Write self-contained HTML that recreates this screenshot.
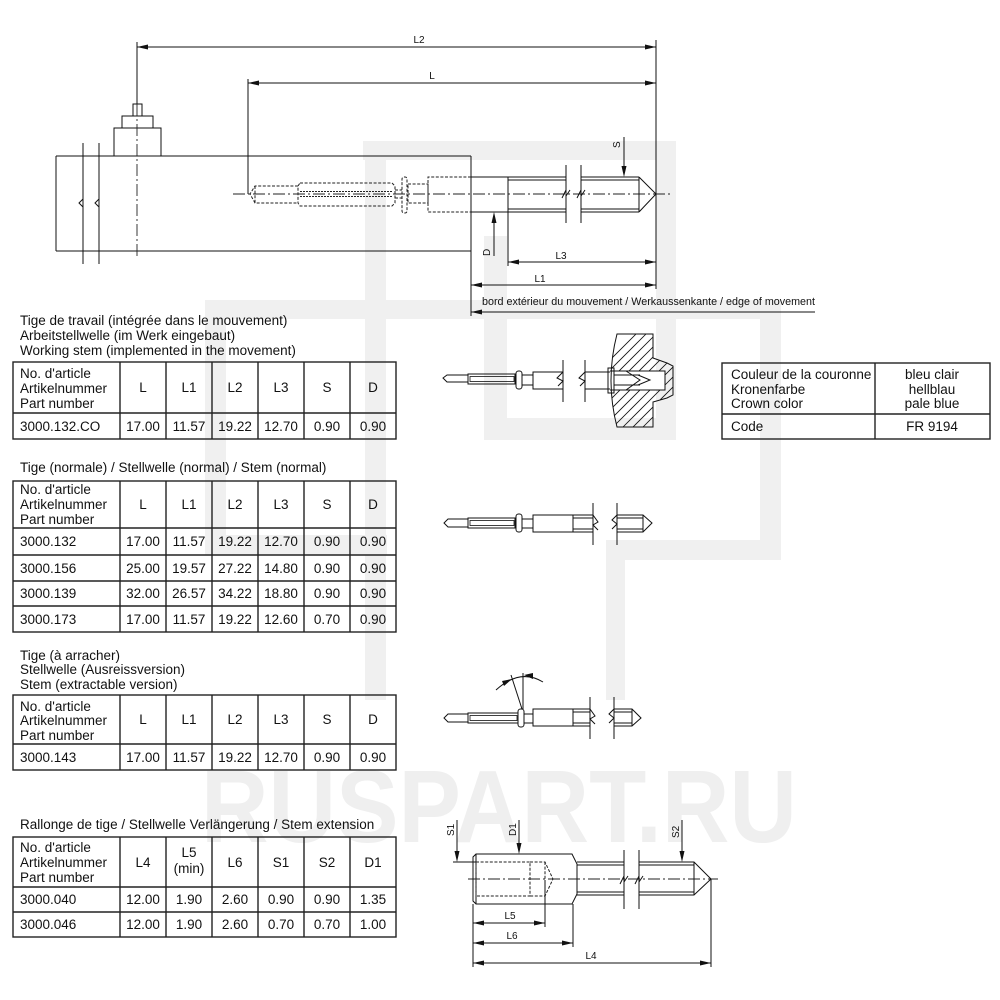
<!DOCTYPE html>
<html><head><meta charset="utf-8"><style>
html,body{margin:0;padding:0;background:#fff;}
svg{display:block;font-family:"Liberation Sans",Arial,sans-serif;}
.t{font-size:13.5px;fill:#111;}
.c{text-anchor:middle;}
.s{font-size:10px;fill:#111;}
.ln{stroke:#111;stroke-width:1;fill:none;}
.tb{stroke:#222;stroke-width:1.4;fill:none;}
.hd{stroke:#222;stroke-width:1;fill:none;stroke-dasharray:3 1.6;}
.ax{stroke:#222;stroke-width:0.9;fill:none;stroke-dasharray:12 3 2 3;}
.wm{fill:#f0f0f0;}
.ar{fill:#111;}
</style></head><body>
<svg width="1000" height="1000" viewBox="0 0 1000 1000" xmlns="http://www.w3.org/2000/svg">
<!-- watermark -->
<g>
<rect class="wm" x="363" y="141" width="313" height="19"/>
<rect class="wm" x="656" y="141" width="20" height="299"/>
<rect class="wm" x="365" y="141" width="21" height="559"/>
<rect class="wm" x="484" y="236" width="23" height="204"/>
<rect class="wm" x="484" y="418" width="192" height="22"/>
<rect class="wm" x="205" y="300" width="576" height="19"/>
<rect class="wm" x="205" y="300" width="21" height="255"/>
<rect class="wm" x="205" y="535" width="182" height="20"/>
<rect class="wm" x="760" y="300" width="21" height="260"/>
<rect class="wm" x="606" y="540" width="175" height="20"/>
<rect class="wm" x="606" y="540" width="19" height="160"/>
<text x="201" y="842" font-size="103" font-weight="bold" fill="#efefef" textLength="596" lengthAdjust="spacingAndGlyphs">RUSPART.RU</text>
</g>

<!-- ===== Main drawing ===== -->
<line class="ln" x1="137" y1="47" x2="656" y2="47"/>
<polygon class="ar" points="137,47 148,44.5 148,49.5"/>
<polygon class="ar" points="656,47 645,44.5 645,49.5"/>
<text class="s c" x="419" y="43">L2</text>
<line class="ln" x1="137" y1="42" x2="137" y2="104"/>
<line class="ln" x1="656" y1="40" x2="656" y2="289"/>
<line class="ln" x1="248" y1="83" x2="656" y2="83"/>
<polygon class="ar" points="248,83 259,80.5 259,85.5"/>
<polygon class="ar" points="656,83 645,80.5 645,85.5"/>
<text class="s c" x="432" y="79">L</text>
<line class="ln" x1="248" y1="79" x2="248" y2="194"/>
<rect class="ln" x="133" y="104" width="9" height="12"/>
<rect class="ln" x="122" y="116" width="31" height="12"/>
<rect class="ln" x="114" y="128" width="47" height="28"/>
<line class="ln" x1="56" y1="156" x2="471" y2="156"/>
<line class="ln" x1="56" y1="251" x2="471" y2="251"/>
<line class="ln" x1="56" y1="156" x2="56" y2="251"/>
<line class="ln" x1="471" y1="156" x2="471" y2="316"/>
<line class="ln" x1="83" y1="143" x2="83" y2="264"/>
<line class="ln" x1="99" y1="143" x2="99" y2="264"/>
<polyline class="ln" points="83,199 79,203 83,207"/>
<polyline class="ln" points="99,199 95,203 99,207"/>
<line class="ax" x1="137" y1="104" x2="137" y2="258"/>
<line class="ax" x1="233" y1="194" x2="672" y2="194"/>
<path class="hd" d="M298 186 L255 186 L250 194 L255 203 L298 203"/>
<line class="hd" x1="255" y1="186" x2="255" y2="203"/>
<path class="hd" d="M300 183 L392 183 L395 186 L395 203 L392 206 L300 206 L298 203 L298 186 Z"/>
<line class="hd" x1="300" y1="191.5" x2="393" y2="191.5" style="stroke-dasharray:2 1"/>
<line class="hd" x1="300" y1="196.5" x2="393" y2="196.5" style="stroke-dasharray:2 1"/>
<line class="hd" x1="395" y1="190" x2="402" y2="190"/>
<line class="hd" x1="395" y1="198" x2="402" y2="198"/>
<rect class="hd" x="402" y="177" width="5" height="36" rx="2"/>
<rect class="hd" x="408" y="184" width="20" height="19"/>
<path class="hd" d="M471 177 L428 177 L428 212 L471 212"/>
<line class="ln" x1="471" y1="177" x2="566" y2="177"/>
<line class="ln" x1="471" y1="212" x2="566" y2="212"/>
<line class="ln" x1="581" y1="177" x2="639" y2="177"/>
<line class="ln" x1="581" y1="212" x2="639" y2="212"/>
<line class="ln" x1="508" y1="180" x2="566" y2="180"/>
<line class="ln" x1="508" y1="209" x2="566" y2="209"/>
<line class="ln" x1="581" y1="180" x2="639" y2="180"/>
<line class="ln" x1="581" y1="209" x2="639" y2="209"/>
<line class="ln" x1="508" y1="177" x2="508" y2="266"/>
<line class="ln" x1="566" y1="165" x2="566" y2="223"/>
<line class="ln" x1="581" y1="165" x2="581" y2="223"/>
<polyline class="ln" points="562,198 566,190 566,196 570,190"/>
<polyline class="ln" points="577,198 581,190 581,196 585,190"/>
<line class="ln" x1="639" y1="177" x2="639" y2="212"/>
<polyline class="ln" points="639,177 656,194 639,212"/>
<line class="ln" x1="624" y1="137" x2="624" y2="170"/>
<polygon class="ar" points="624,177 621.5,166 626.5,166"/>
<text class="s" transform="translate(620,148) rotate(-90)">S</text>
<line class="ln" x1="494" y1="256" x2="494" y2="220"/>
<polygon class="ar" points="494,212 491.5,223 496.5,223"/>
<text class="s" transform="translate(490,256) rotate(-90)">D</text>
<line class="ln" x1="508" y1="262" x2="656" y2="262"/>
<polygon class="ar" points="508,262 519,259.5 519,264.5"/>
<polygon class="ar" points="656,262 645,259.5 645,264.5"/>
<text class="s c" x="561" y="259">L3</text>
<line class="ln" x1="471" y1="285" x2="656" y2="285"/>
<polygon class="ar" points="471,285 482,282.5 482,287.5"/>
<polygon class="ar" points="656,285 645,282.5 645,287.5"/>
<text class="s c" x="540" y="282">L1</text>
<text x="482" y="305" font-size="11" fill="#111" textLength="333" lengthAdjust="spacingAndGlyphs">bord extérieur du mouvement / Werkaussenkante / edge of movement</text>
<line class="ln" x1="471" y1="312" x2="815" y2="312"/>
<polygon class="ar" points="471,312 482,309.5 482,314.5"/>

<!-- ===== Table 1 ===== -->
<text class="t" x="20" y="325">Tige de travail (intégrée dans le mouvement)</text>
<text class="t" x="20" y="340">Arbeitstellwelle (im Werk eingebaut)</text>
<text class="t" x="20" y="355">Working stem (implemented in the movement)</text>
<rect class="tb" x="13" y="362" width="383" height="77"/>
<path class="tb" d="M13 413H396 M120 362V439 M166 362V439 M212 362V439 M258 362V439 M304 362V439 M350 362V439"/>
<text class="t" x="20" y="378">No. d'article</text>
<text class="t" x="20" y="393">Artikelnummer</text>
<text class="t" x="20" y="408">Part number</text>
<g class="t c"><text x="143" y="392">L</text><text x="189" y="392">L1</text><text x="235" y="392">L2</text><text x="281" y="392">L3</text><text x="327" y="392">S</text><text x="373" y="392">D</text></g>
<text class="t" x="20" y="431">3000.132.CO</text>
<g class="t c"><text x="143" y="431">17.00</text><text x="189" y="431">11.57</text><text x="235" y="431">19.22</text><text x="281" y="431">12.70</text><text x="327" y="431">0.90</text><text x="373" y="431">0.90</text></g>

<!-- ===== Table 2 ===== -->
<text class="t" x="20" y="472">Tige (normale) / Stellwelle (normal) / Stem (normal)</text>
<rect class="tb" x="13" y="481" width="383" height="151"/>
<path class="tb" d="M13 528H396 M13 555H396 M13 581H396 M13 606H396 M120 481V632 M166 481V632 M212 481V632 M258 481V632 M304 481V632 M350 481V632"/>
<text class="t" x="20" y="494">No. d'article</text>
<text class="t" x="20" y="509">Artikelnummer</text>
<text class="t" x="20" y="524">Part number</text>
<g class="t c"><text x="143" y="509">L</text><text x="189" y="509">L1</text><text x="235" y="509">L2</text><text x="281" y="509">L3</text><text x="327" y="509">S</text><text x="373" y="509">D</text></g>
<text class="t" x="20" y="546">3000.132</text>
<g class="t c"><text x="143" y="546">17.00</text><text x="189" y="546">11.57</text><text x="235" y="546">19.22</text><text x="281" y="546">12.70</text><text x="327" y="546">0.90</text><text x="373" y="546">0.90</text></g>
<text class="t" x="20" y="573">3000.156</text>
<g class="t c"><text x="143" y="573">25.00</text><text x="189" y="573">19.57</text><text x="235" y="573">27.22</text><text x="281" y="573">14.80</text><text x="327" y="573">0.90</text><text x="373" y="573">0.90</text></g>
<text class="t" x="20" y="598">3000.139</text>
<g class="t c"><text x="143" y="598">32.00</text><text x="189" y="598">26.57</text><text x="235" y="598">34.22</text><text x="281" y="598">18.80</text><text x="327" y="598">0.90</text><text x="373" y="598">0.90</text></g>
<text class="t" x="20" y="624">3000.173</text>
<g class="t c"><text x="143" y="624">17.00</text><text x="189" y="624">11.57</text><text x="235" y="624">19.22</text><text x="281" y="624">12.60</text><text x="327" y="624">0.70</text><text x="373" y="624">0.90</text></g>

<!-- ===== Table 3 ===== -->
<text class="t" x="20" y="660">Tige (à arracher)</text>
<text class="t" x="20" y="674">Stellwelle (Ausreissversion)</text>
<text class="t" x="20" y="689">Stem (extractable version)</text>
<rect class="tb" x="13" y="695" width="383" height="75"/>
<path class="tb" d="M13 744H396 M120 695V770 M166 695V770 M212 695V770 M258 695V770 M304 695V770 M350 695V770"/>
<text class="t" x="20" y="711">No. d'article</text>
<text class="t" x="20" y="725">Artikelnummer</text>
<text class="t" x="20" y="740">Part number</text>
<g class="t c"><text x="143" y="724">L</text><text x="189" y="724">L1</text><text x="235" y="724">L2</text><text x="281" y="724">L3</text><text x="327" y="724">S</text><text x="373" y="724">D</text></g>
<text class="t" x="20" y="762">3000.143</text>
<g class="t c"><text x="143" y="762">17.00</text><text x="189" y="762">11.57</text><text x="235" y="762">19.22</text><text x="281" y="762">12.70</text><text x="327" y="762">0.90</text><text x="373" y="762">0.90</text></g>

<!-- ===== Table 4 ===== -->
<text class="t" x="20" y="829">Rallonge de tige / Stellwelle Verlängerung / Stem extension</text>
<rect class="tb" x="13" y="837" width="383" height="100"/>
<path class="tb" d="M13 887H396 M13 912H396 M120 837V937 M166 837V937 M212 837V937 M258 837V937 M304 837V937 M350 837V937"/>
<text class="t" x="20" y="852">No. d'article</text>
<text class="t" x="20" y="867">Artikelnummer</text>
<text class="t" x="20" y="882">Part number</text>
<g class="t c"><text x="143" y="867">L4</text><text x="189" y="857">L5</text><text x="189" y="873">(min)</text><text x="235" y="867">L6</text><text x="281" y="867">S1</text><text x="327" y="867">S2</text><text x="373" y="867">D1</text></g>
<text class="t" x="20" y="904">3000.040</text>
<g class="t c"><text x="143" y="904">12.00</text><text x="189" y="904">1.90</text><text x="235" y="904">2.60</text><text x="281" y="904">0.90</text><text x="327" y="904">0.90</text><text x="373" y="904">1.35</text></g>
<text class="t" x="20" y="929">3000.046</text>
<g class="t c"><text x="143" y="929">12.00</text><text x="189" y="929">1.90</text><text x="235" y="929">2.60</text><text x="281" y="929">0.70</text><text x="327" y="929">0.70</text><text x="373" y="929">1.00</text></g>

<!-- ===== Crown color table ===== -->
<rect class="tb" x="722" y="363" width="268" height="76"/>
<path class="tb" d="M722 414H990 M875 363V439"/>
<text class="t" x="731" y="379">Couleur de la couronne</text>
<text class="t" x="731" y="394">Kronenfarbe</text>
<text class="t" x="731" y="408">Crown color</text>
<text class="t" x="731" y="431">Code</text>
<g class="t c"><text x="932" y="379">bleu clair</text><text x="932" y="394">hellblau</text><text x="932" y="408">pale blue</text><text x="932" y="431">FR 9194</text></g>

<!-- ===== Drawing 1 (axis 378) ===== -->
<defs>
<clipPath id="crc"><path d="M617 334 L653 334 L653 358 L667 363 L673 366 L673 395 L667 398 L653 402 L653 427 L617 427 Q605 380.5 617 334 Z"/></clipPath>
</defs>
<path class="ln" d="M468 375 L447 375 L443 378 L447 382 L468 382"/>
<rect class="ln" x="468" y="374" width="47" height="10"/>
<rect class="ln" x="470" y="376.5" width="44" height="5" style="stroke-width:0.8"/>
<rect class="ln" x="516" y="371" width="6" height="18" rx="2.5"/>
<rect class="ln" x="522" y="375" width="11" height="10"/>
<path class="ln" d="M563 372 L533 372 L533 389 L563 389"/>
<line class="ln" x1="563" y1="360" x2="563" y2="402"/>
<line class="ln" x1="585" y1="360" x2="585" y2="402"/>
<polyline class="ln" points="563,372 557,378 563,381 558,386"/>
<polyline class="ln" points="585,372 579,378 585,381 580,386"/>
<line class="ln" x1="585" y1="372" x2="610" y2="372"/>
<line class="ln" x1="585" y1="389" x2="610" y2="389"/>
<g clip-path="url(#crc)">
<g class="ln" style="stroke-width:0.8">
<line x1="530" y1="440" x2="640" y2="330"/><line x1="540" y1="440" x2="650" y2="330"/>
<line x1="550" y1="440" x2="660" y2="330"/><line x1="560" y1="440" x2="670" y2="330"/>
<line x1="570" y1="440" x2="680" y2="330"/><line x1="580" y1="440" x2="690" y2="330"/>
<line x1="590" y1="440" x2="700" y2="330"/><line x1="600" y1="440" x2="710" y2="330"/>
<line x1="610" y1="440" x2="720" y2="330"/><line x1="620" y1="440" x2="730" y2="330"/>
<line x1="630" y1="440" x2="740" y2="330"/><line x1="640" y1="440" x2="750" y2="330"/>
<line x1="650" y1="440" x2="760" y2="330"/><line x1="660" y1="440" x2="770" y2="330"/>
</g>
<rect x="606" y="371" width="59" height="19" fill="#fff"/>
</g>
<path class="ln" d="M617 334 L653 334 L653 358 L667 363 L673 366 L673 395 L667 398 L653 402 L653 427 L617 427 Q605 380.5 617 334 Z"/>
<path class="ln" d="M610 371 L665 371 L665 390 L610 390"/>
<rect class="ln" x="608" y="368" width="6" height="25"/>
<line class="ln" x1="614" y1="375" x2="640" y2="375"/>
<line class="ln" x1="614" y1="385" x2="640" y2="385"/>
<polyline class="ln" points="626,371 640,380 626,390"/>
<polyline class="ln" points="638,375 650,380 638,385"/>

<!-- ===== Drawing 2 (axis 523) ===== -->
<path class="ln" d="M468 519 L448 519 L444 523 L448 527 L468 527"/>
<rect class="ln" x="468" y="518" width="47" height="10"/>
<rect class="ln" x="470" y="520.5" width="44" height="5" style="stroke-width:0.8"/>
<rect class="ln" x="516" y="514" width="6" height="18" rx="2.5"/>
<rect class="ln" x="522" y="519" width="11" height="9"/>
<path class="ln" d="M593 515 L533 515 L533 532 L593 532"/>
<line class="ln" x1="573" y1="515" x2="573" y2="532"/>
<line class="ln" x1="573" y1="518" x2="593" y2="518"/>
<line class="ln" x1="573" y1="529" x2="593" y2="529"/>
<line class="ln" x1="593" y1="503" x2="593" y2="545"/>
<line class="ln" x1="617" y1="503" x2="617" y2="545"/>
<polyline class="ln" points="593,515 598,522 593,525 598,530"/>
<polyline class="ln" points="617,515 612,520 617,524 612,529"/>
<path class="ln" d="M617 515 L643 515 L652 523 L643 532 L617 532"/>
<line class="ln" x1="617" y1="518" x2="643" y2="518"/>
<line class="ln" x1="617" y1="529" x2="643" y2="529"/>
<line class="ln" x1="643" y1="515" x2="643" y2="532"/>

<!-- ===== Drawing 3 (axis 718) ===== -->
<path class="ln" d="M468 714 L448 714 L444 718 L448 722 L468 722"/>
<rect class="ln" x="468" y="713" width="50" height="10"/>
<rect class="ln" x="470" y="715.5" width="47" height="5" style="stroke-width:0.8"/>
<rect class="ln" x="518" y="709" width="6" height="18" rx="2.5"/>
<rect class="ln" x="524" y="714" width="9" height="9"/>
<path class="ln" d="M590 709 L533 709 L533 726 L590 726"/>
<line class="ln" x1="573" y1="709" x2="573" y2="726"/>
<line class="ln" x1="573" y1="712" x2="590" y2="712"/>
<line class="ln" x1="573" y1="723" x2="590" y2="723"/>
<line class="ln" x1="590" y1="697" x2="590" y2="739"/>
<line class="ln" x1="614" y1="697" x2="614" y2="739"/>
<polyline class="ln" points="590,709 595,716 590,719 595,724"/>
<polyline class="ln" points="614,709 609,714 614,718 609,723"/>
<path class="ln" d="M614 709 L632 709 L641 718 L632 726 L614 726"/>
<line class="ln" x1="614" y1="712" x2="632" y2="712"/>
<line class="ln" x1="614" y1="723" x2="632" y2="723"/>
<line class="ln" x1="632" y1="709" x2="632" y2="726"/>
<line class="ln" x1="523" y1="673" x2="523" y2="709"/>
<line class="ln" x1="511" y1="675" x2="522" y2="709"/>
<path class="ln" d="M496 690 Q520 668 543 682"/>
<polygon class="ar" points="512,679 502,681 504,686"/>
<polygon class="ar" points="524,675 533,673 533,679"/>

<!-- ===== Drawing 4 (axis 879) ===== -->
<line class="ax" x1="468" y1="879" x2="718" y2="879"/>
<path class="ln" d="M476 854 L572 854 L577 864 L577 894 L572 904 L476 904 L473 901 L473 857 Z"/>
<line class="ln" x1="476" y1="854" x2="476" y2="904"/>
<rect class="hd" x="476" y="862" width="54" height="34"/>
<path class="hd" d="M530 862 L545 862 L553 879 L545 896 L530 896"/>
<line class="hd" x1="545" y1="862" x2="545" y2="896"/>
<line class="ln" x1="577" y1="862" x2="624" y2="862"/>
<line class="ln" x1="577" y1="895" x2="624" y2="895"/>
<line class="ln" x1="577" y1="865" x2="624" y2="865"/>
<line class="ln" x1="577" y1="892" x2="624" y2="892"/>
<line class="ln" x1="624" y1="850" x2="624" y2="909"/>
<line class="ln" x1="639" y1="850" x2="639" y2="909"/>
<polyline class="ln" points="620,884 624,876 624,882 628,876"/>
<polyline class="ln" points="635,884 639,876 639,882 643,876"/>
<path class="ln" d="M639 862 L694 862 L711 879 L694 895 L639 895"/>
<line class="ln" x1="639" y1="865" x2="694" y2="865"/>
<line class="ln" x1="639" y1="892" x2="694" y2="892"/>
<line class="ln" x1="694" y1="862" x2="694" y2="895"/>
<line class="ln" x1="457" y1="820" x2="457" y2="855"/>
<polygon class="ar" points="457,862 454.5,851 459.5,851"/>
<line class="ln" x1="453" y1="862" x2="476" y2="862"/>
<text class="s" transform="translate(454,836) rotate(-90)">S1</text>
<line class="ln" x1="519" y1="820" x2="519" y2="847"/>
<polygon class="ar" points="519,854 516.5,843 521.5,843"/>
<text class="s" transform="translate(516,836) rotate(-90)">D1</text>
<line class="ln" x1="682" y1="820" x2="682" y2="855"/>
<polygon class="ar" points="682,862 679.5,851 684.5,851"/>
<text class="s" transform="translate(679,838) rotate(-90)">S2</text>
<line class="ln" x1="473" y1="904" x2="473" y2="967"/>
<line class="ln" x1="545" y1="880" x2="545" y2="927"/>
<line class="ln" x1="573" y1="904" x2="573" y2="947"/>
<line class="ln" x1="711" y1="879" x2="711" y2="967"/>
<line class="ln" x1="473" y1="923" x2="545" y2="923"/>
<polygon class="ar" points="473,923 484,920.5 484,925.5"/>
<polygon class="ar" points="545,923 534,920.5 534,925.5"/>
<text class="s c" x="510" y="919">L5</text>
<line class="ln" x1="473" y1="943" x2="573" y2="943"/>
<polygon class="ar" points="473,943 484,940.5 484,945.5"/>
<polygon class="ar" points="573,943 562,940.5 562,945.5"/>
<text class="s c" x="512" y="939">L6</text>
<line class="ln" x1="473" y1="963" x2="711" y2="963"/>
<polygon class="ar" points="473,963 484,960.5 484,965.5"/>
<polygon class="ar" points="711,963 700,960.5 700,965.5"/>
<text class="s c" x="591" y="959">L4</text>
</svg>
</body></html>
